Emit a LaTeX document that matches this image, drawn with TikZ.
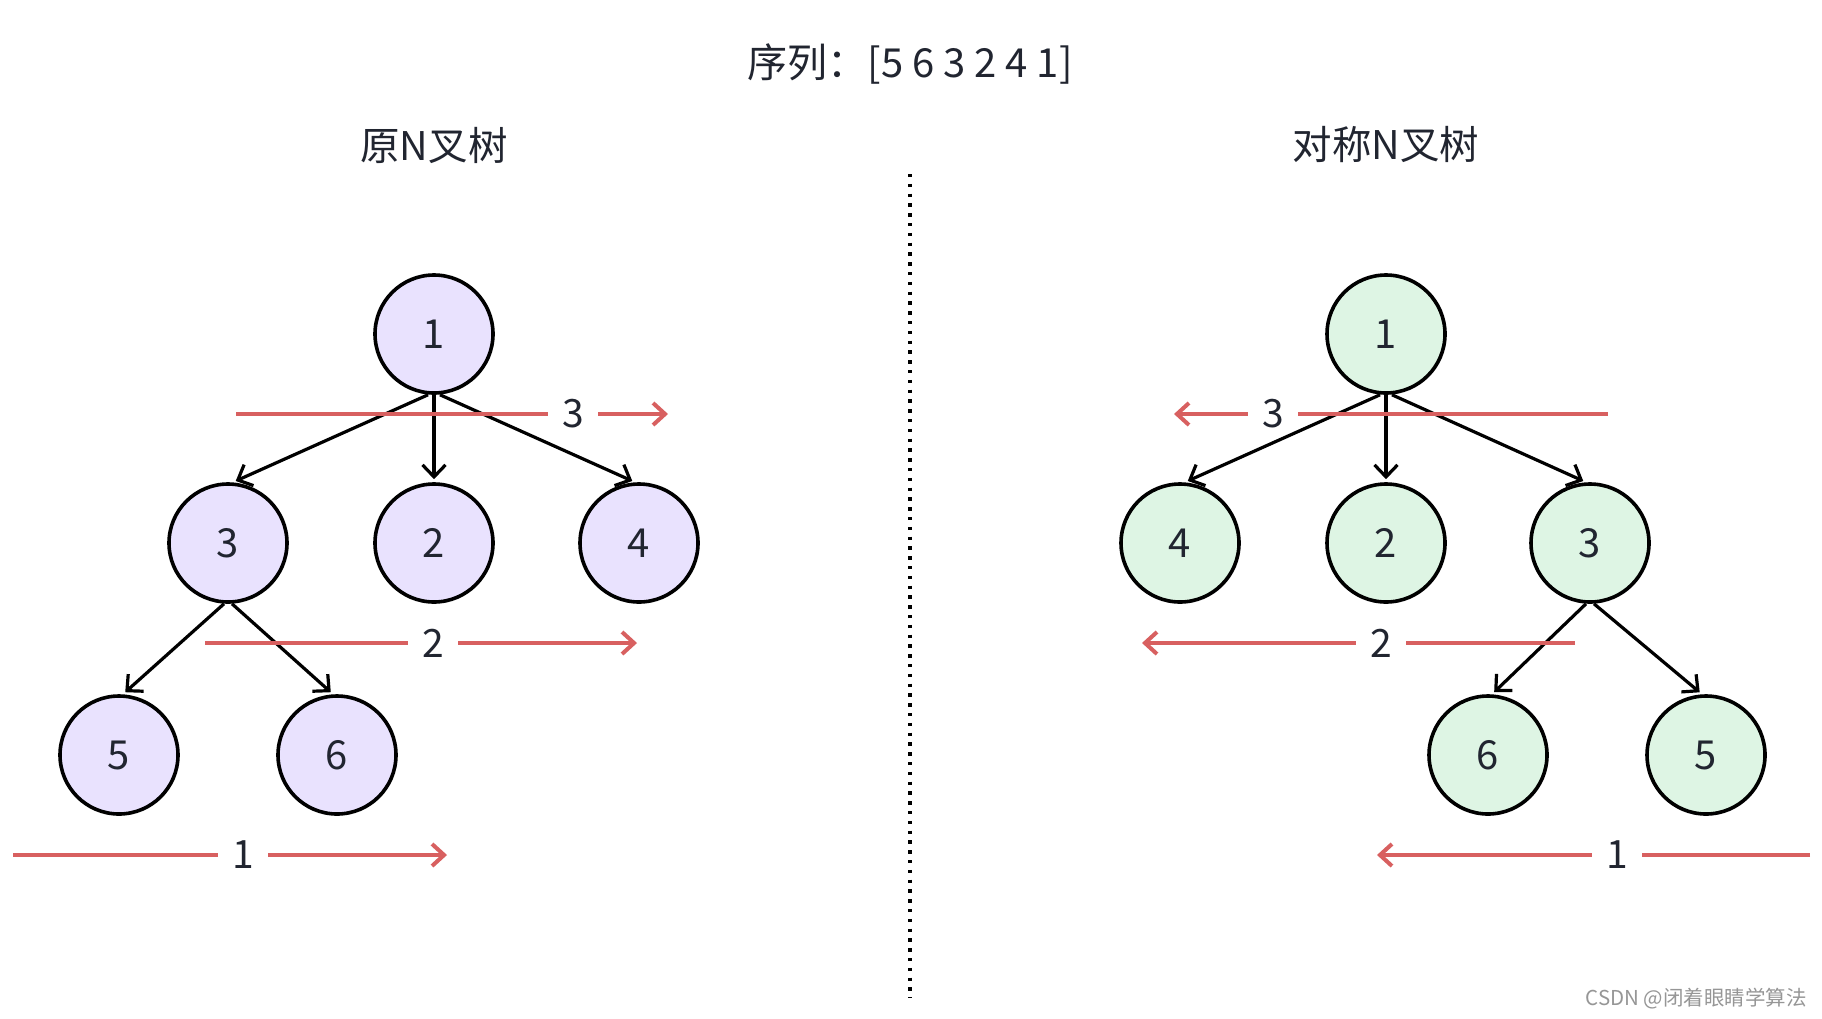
\documentclass[tikz,border=0pt]{standalone}
\usepackage{fontspec}
\newfontfamily\cjk{Noto Sans CJK SC}
\usetikzlibrary{arrows.meta}
\definecolor{redl}{RGB}{216,96,96}
\definecolor{purp}{RGB}{233,226,254}
\definecolor{grn}{RGB}{222,245,228}
\definecolor{txt}{RGB}{33,37,48}
\definecolor{wm}{RGB}{150,150,150}
\begin{document}
\begin{tikzpicture}[x=1pt,y=-1pt,
  tnode/.style={circle, draw=black, line width=3.6pt, minimum size=118pt, inner sep=0pt,
    font=\cjk\fontsize{40}{40}\selectfont, text=txt},
  pnode/.style={tnode, fill=purp},
  gnode/.style={tnode, fill=grn},
  edge/.style={draw=black, line width=3.2pt, shorten >=3pt,
    -{Straight Barb[length=12pt,width=23pt]}},
  redline/.style={draw=redl, line width=4pt},
  redarrow/.style={redline, -{Straight Barb[length=12pt,width=22pt]}},
  lab/.style={inner sep=0pt, minimum width=50pt, font=\cjk\fontsize{39}{39}\selectfont, text=txt},
  ttl/.style={inner sep=0pt, font=\cjk\fontsize{40}{40}\selectfont, text=txt},
  sub/.style={inner sep=0pt, font=\cjk\fontsize{39.5}{39.5}\selectfont, text=txt},
  sep/.style={draw=black, line width=3.3pt, dash pattern=on 3.3pt off 6.5pt}
]
\useasboundingbox (0,0) rectangle (1822,1018);
\fill[white] (0,0) rectangle (1822,1018);

% titles
\node[ttl] (title) at (910,64) {序列：[5 6 3 2 4 1]};
\node[sub] (subL) at (434,145) {原N叉树};
\node[sub] (subR) at (1386,145) {对称N叉树};

% separator
\coordinate (sepT) at (910,174);
\coordinate (sepB) at (910,998);
\draw[sep] (sepT) -- (sepB);

% ---------- left tree ----------
\node[pnode] (L1) at (434,334) {1};
\node[pnode] (L3) at (228,543) {3};
\node[pnode] (L2) at (434,543) {2};
\node[pnode] (L4) at (639,543) {4};
\node[pnode] (L5) at (119,755) {5};
\node[pnode] (L6) at (337,755) {6};

\draw[edge] ([xshift=-6pt]L1.south) -- ([xshift=5pt]L3.north);
\draw[edge] (L1.south) -- (L2.north);
\draw[edge] ([xshift=6pt]L1.south) -- ([xshift=-4pt]L4.north);
\draw[edge] ([xshift=-4pt]L3.south) -- ([xshift=4pt]L5.north);
\draw[edge] ([xshift=4pt]L3.south) -- ([xshift=-4pt]L6.north);

% red lines left
\coordinate (la3) at (236,414);
\node[lab] (lb3) at (573,414) {3};
\coordinate (lc3) at (668,414);
\draw[redline] (la3) -- (lb3.west);
\draw[redarrow] (lb3.east) -- (lc3);

\coordinate (la2) at (205,643);
\node[lab] (lb2) at (433,643) {2};
\coordinate (lc2) at (637,643);
\draw[redline] (la2) -- (lb2.west);
\draw[redarrow] (lb2.east) -- (lc2);

\coordinate (la1) at (13,855);
\node[lab] (lb1) at (243,855) {1};
\coordinate (lc1) at (447,855);
\draw[redline] (la1) -- (lb1.west);
\draw[redarrow] (lb1.east) -- (lc1);

% ---------- right tree ----------
\node[gnode] (R1) at (1386,334) {1};
\node[gnode] (R4) at (1180,543) {4};
\node[gnode] (R2) at (1386,543) {2};
\node[gnode] (R3) at (1590,543) {3};
\node[gnode] (R6) at (1488,755) {6};
\node[gnode] (R5) at (1706,755) {5};

\draw[edge] ([xshift=-6pt]R1.south) -- ([xshift=5pt]R4.north);
\draw[edge] (R1.south) -- (R2.north);
\draw[edge] ([xshift=6pt]R1.south) -- ([xshift=-4pt]R3.north);
\draw[edge] ([xshift=-4pt]R3.south) -- ([xshift=4pt]R6.north);
\draw[edge] ([xshift=4pt]R3.south) -- ([xshift=-4pt]R5.north);

% red lines right
\coordinate (ra3) at (1608,414);
\node[lab] (rb3) at (1273,414) {3};
\coordinate (rc3) at (1174,414);
\draw[redline] (ra3) -- (rb3.east);
\draw[redarrow] (rb3.west) -- (rc3);

\coordinate (ra2) at (1575,643);
\node[lab] (rb2) at (1381,643) {2};
\coordinate (rc2) at (1142,643);
\draw[redline] (ra2) -- (rb2.east);
\draw[redarrow] (rb2.west) -- (rc2);

\coordinate (ra1) at (1810,855);
\node[lab] (rb1) at (1617,855) {1};
\coordinate (rc1) at (1377,855);
\draw[redline] (ra1) -- (rb1.east);
\draw[redarrow] (rb1.west) -- (rc1);

% watermark
\node[anchor=east, inner sep=0pt, text=wm, font=\cjk\fontsize{20.5}{20.5}\selectfont] (wmk) at (1807,999) {CSDN @闭着眼睛学算法};
\end{tikzpicture}
\end{document}
